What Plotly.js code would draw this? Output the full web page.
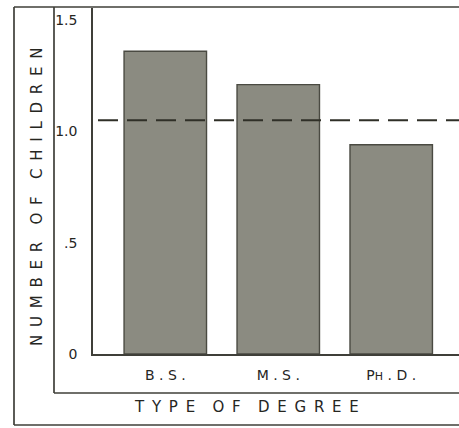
<!DOCTYPE html>
<html>
<head>
<meta charset="utf-8">
<script src="https://cdn.plot.ly/plotly-3.0.1.min.js"></script>
<style>html,body{margin:0;padding:0;background:#fff;}</style>
</head>
<body>
<div id="chart" style="width:459px;height:428px;"></div>
<script>
const degrees = ["B.S.", "M.S.", "PH.D."];
const degreeLabels = ["B . S .", "M . S .", "P<span style='font-size:11px'>H</span> . D ."];
const children = [1.36, 1.21, 0.94];
const averageLine = 1.05;
const yTickVals = [0, 0.5, 1.0, 1.5];
const yTickText = ["0", ".5", "1.0", "1.5"];
const xTitleText = "TYPE OF DEGREE";
const yTitleText = "NUMBER OF CHILDREN";

// letter-spaced versions of the titles (space + thin space between letters)
const spaced = s => s.split(" ").map(w => w.split("").join("\u00a0\u2009")).join("\u00a0\u00a0\u00a0\u2009");

const ink = "#26261f";
const font = "DejaVu Sans, sans-serif";

const W = 459, H = 428;
const L = 93, T = 8, B = 74, R = 0;
const pw = W - L - R, ph = H - T - B;
const px = x => (x - L) / pw;
const py = y => (H - B - y) / ph;

const data = [{
  type: "bar",
  x: degrees,
  y: children,
  width: 0.73,
  marker: {color: "#8b8b81", line: {color: "#4a4a42", width: 1.4}},
  hoverinfo: "x+y"
}];

const frame = {color: "#3f3f39", width: 1.7};

const layout = {
  width: W, height: H,
  margin: {l: L, r: R, t: T, b: B, pad: 0},
  paper_bgcolor: "#ffffff",
  plot_bgcolor: "#ffffff",
  showlegend: false,
  font: {family: font, color: ink},
  xaxis: {
    type: "category",
    range: [-0.64, 2.6],
    tickvals: degrees,
    ticktext: degreeLabels,
    tickfont: {size: 14, family: font, color: ink},
    ticks: "outside", ticklen: 7, tickcolor: "rgba(0,0,0,0)",
    showline: true, linecolor: "#3f3f39", linewidth: 1.8,
    showgrid: false, zeroline: false
  },
  yaxis: {
    range: [0, 1.554],
    tickvals: yTickVals,
    ticktext: yTickText,
    tickfont: {size: 14, family: font, color: ink},
    ticks: "outside", ticklen: 11, tickcolor: "rgba(0,0,0,0)",
    showline: true, linecolor: "#3f3f39", linewidth: 1.8,
    showgrid: false, zeroline: false
  },
  annotations: [
    {text: spaced(xTitleText), xref: "paper", yref: "paper", x: px(246), y: py(407),
     xanchor: "center", yanchor: "middle", showarrow: false,
     font: {size: 15, family: font, color: ink}},
    {text: spaced(yTitleText), xref: "paper", yref: "paper", x: px(37), y: py(197),
     xanchor: "center", yanchor: "middle", showarrow: false, textangle: -90,
     font: {size: 15, family: font, color: ink}}
  ],
  shapes: [
    {type: "line", xref: "paper", yref: "y", x0: px(98), x1: 1, y0: averageLine, y1: averageLine,
     line: {color: "#2f2f27", width: 2, dash: "20px,9px"}},
    {type: "line", xref: "paper", yref: "paper", x0: px(14), x1: 1, y0: py(7), y1: py(7), line: frame},
    {type: "line", xref: "paper", yref: "paper", x0: px(14), x1: px(14), y0: py(7), y1: py(425), line: frame},
    {type: "line", xref: "paper", yref: "paper", x0: px(14), x1: 1, y0: py(425), y1: py(425), line: frame},
    {type: "line", xref: "paper", yref: "paper", x0: px(54), x1: px(54), y0: py(7), y1: py(393), line: frame},
    {type: "line", xref: "paper", yref: "paper", x0: px(54), x1: 1, y0: py(393), y1: py(393), line: frame}
  ]
};

Plotly.newPlot("chart", data, layout, {displayModeBar: false, staticPlot: true});
</script>
</body>
</html>
